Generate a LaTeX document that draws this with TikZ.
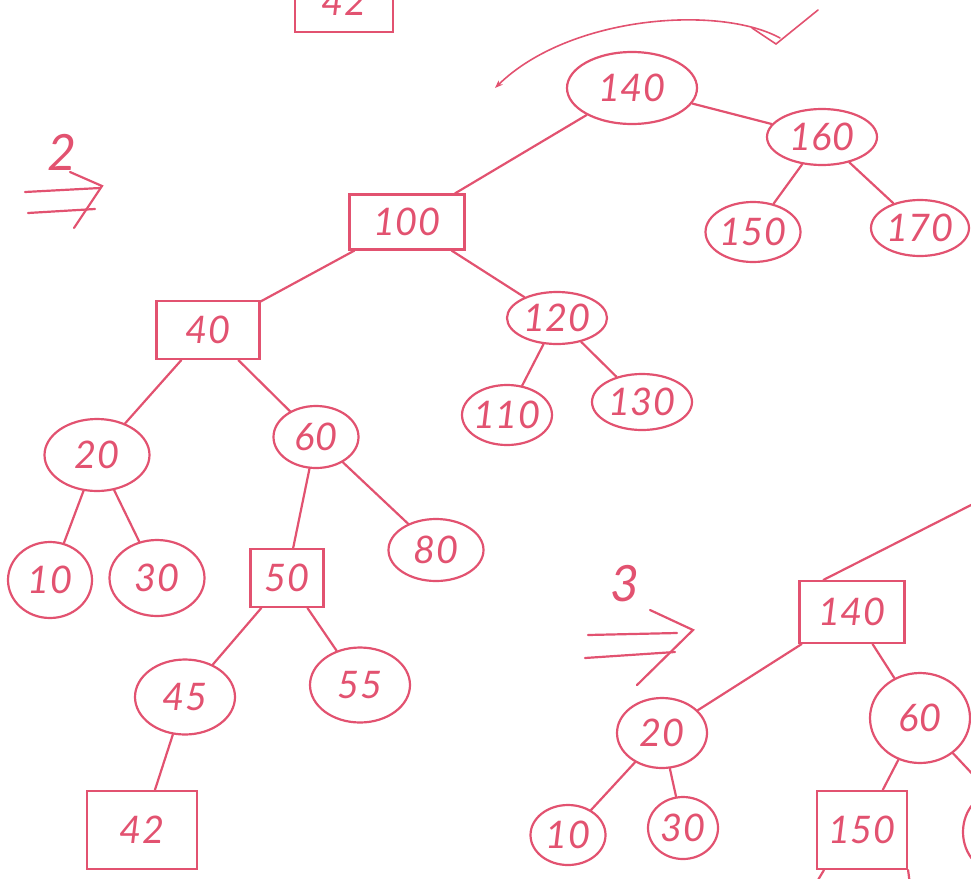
\documentclass[tikz,border=0pt]{standalone}
\usepackage{fontspec}
\setmainfont{Lato}
\usetikzlibrary{shapes.geometric,arrows.meta}
\definecolor{ink}{RGB}{226,82,112}
\begin{document}
\begin{tikzpicture}[x=1pt,y=-1pt,
  every node/.style={text=ink,font=\fontsize{38}{40}\selectfont\itshape},
  big/.style={font=\fontsize{50}{52}\selectfont\itshape},
  ov/.style={ellipse,draw=ink,line width=2.2pt,inner sep=-8pt},
  bx/.style={rectangle,draw=ink,line width=2.2pt,inner sep=0pt},
  ln/.style={draw=ink,line width=2.2pt,line cap=round}]
\useasboundingbox (0,0) rectangle (971,878);
\clip (0,0) rectangle (971,878);
% top tree
\node[bx,minimum width=98,minimum height=60] (t42) at (344,2) {42};
\node[ov,minimum width=130,minimum height=72] (a140) at (632,88) {140};
\node[ov,minimum width=110,minimum height=56] (a160) at (822,137) {160};
\node[ov,minimum width=95,minimum height=60] (a150) at (753,232) {150};
\node[ov,minimum width=98,minimum height=56] (a170) at (920,228) {170};
\node[bx,minimum width=115,minimum height=55] (a100) at (407,222) {100};
\node[ov,minimum width=100,minimum height=52] (a120) at (557,318) {120};
\node[ov,minimum width=90,minimum height=60] (a110) at (507,415) {110};
\node[ov,minimum width=100,minimum height=56] (a130) at (642,402) {130};
\node[bx,minimum width=103,minimum height=58] (a40) at (208,330) {40};
\node[ov,minimum width=105,minimum height=72] (a20) at (97,455) {20};
\node[ov,minimum width=85,minimum height=62] (a60) at (316,437) {60};
\node[ov,minimum width=84,minimum height=76] (a10) at (50,580) {10};
\node[ov,minimum width=95,minimum height=76] (a30) at (157,578) {30};
\node[bx,minimum width=73,minimum height=58] (a50) at (287,578) {50};
\node[ov,minimum width=95,minimum height=62] (a80) at (436,550) {80};
\node[ov,minimum width=100,minimum height=75] (a45) at (185,697) {45};
\node[ov,minimum width=100,minimum height=75] (a55) at (360,685) {55};
\node[bx,minimum width=110,minimum height=78] (a42) at (142,830) {42};
\draw[ln] (a140) -- (a100);
\draw[ln] (a140) -- (a160);
\draw[ln] (a160) -- (a150);
\draw[ln] (a160) -- (a170);
\draw[ln] (a100) -- (a40);
\draw[ln] (a100) -- (a120);
\draw[ln] (a120) -- (a110);
\draw[ln] (a120) -- (a130);
\draw[ln] (a40) -- (a20);
\draw[ln] (a40) -- (a60);
\draw[ln] (a20) -- (a10);
\draw[ln] (a20) -- (a30);
\draw[ln] (a60) -- (a50);
\draw[ln] (a60) -- (a80);
\draw[ln] (a50) -- (a45);
\draw[ln] (a50) -- (a55);
\draw[ln] (a45) -- (a42);
% curved arrow with tick
\coordinate (cs) at (780,38);
\coordinate (ce) at (495,88);
\draw[ln,line width=1.6pt,-{Stealth[length=8pt]}] (cs) .. controls (720,5) and (570,15) .. (ce);
\coordinate (k1) at (752,28);
\coordinate (k2) at (776,44);
\coordinate (k3) at (818,10);
\draw[ln,line width=1.6pt] (k1) -- (k2) -- (k3);
% step 2 label
\node[big] (l2) at (62,152) {2};
\coordinate (p1) at (25,192); \coordinate (p2) at (100,188);
\coordinate (p3) at (28,213); \coordinate (p4) at (95,209);
\coordinate (p5) at (70,172); \coordinate (p6) at (102,186); \coordinate (p7) at (74,228);
\draw[ln] (p1) -- (p2);
\draw[ln] (p3) -- (p4);
\draw[ln] (p5) -- (p6) -- (p7);
% step 3 label
\node[big] (l3) at (625,584) {3};
\coordinate (q1) at (588,635); \coordinate (q2) at (677,633);
\coordinate (q3) at (585,658); \coordinate (q4) at (675,652);
\coordinate (q5) at (650,610); \coordinate (q6) at (693,630); \coordinate (q7) at (637,685);
\draw[ln] (q1) -- (q2);
\draw[ln] (q3) -- (q4);
\draw[ln] (q5) -- (q6) -- (q7);
% bottom right tree
\node[bx,minimum width=105,minimum height=62] (b140) at (852,612) {140};
\node[ov,minimum width=90,minimum height=70] (b20) at (662,733) {20};
\node[ov,minimum width=100,minimum height=90] (b60) at (920,718) {60};
\node[ov,minimum width=75,minimum height=60] (b10) at (568,835) {10};
\node[ov,minimum width=70,minimum height=62] (b30) at (683,828) {30};
\node[bx,minimum width=90,minimum height=78] (b150) at (862,830) {150};
\node[ov,minimum width=70,minimum height=80] (bx1) at (998,832) {};
\coordinate (o1) at (975,503);
\coordinate (o2) at (978,780);
\coordinate (o3) at (815,885);
\coordinate (o4) at (910,885);
\draw[ln] (b140.north west) ++(25,0) -- (o1);
\draw[ln] (b140) -- (b20);
\draw[ln] (b140) -- (b60);
\draw[ln] (b20) -- (b10);
\draw[ln] (b20) -- (b30);
\draw[ln] (b60) -- (b150);
\draw[ln] (b60) -- (o2);
\draw[ln] (b150.south west) ++(8,0) -- (o3);
\draw[ln] (b150.south east) -- (o4);
\end{tikzpicture}
\end{document}
